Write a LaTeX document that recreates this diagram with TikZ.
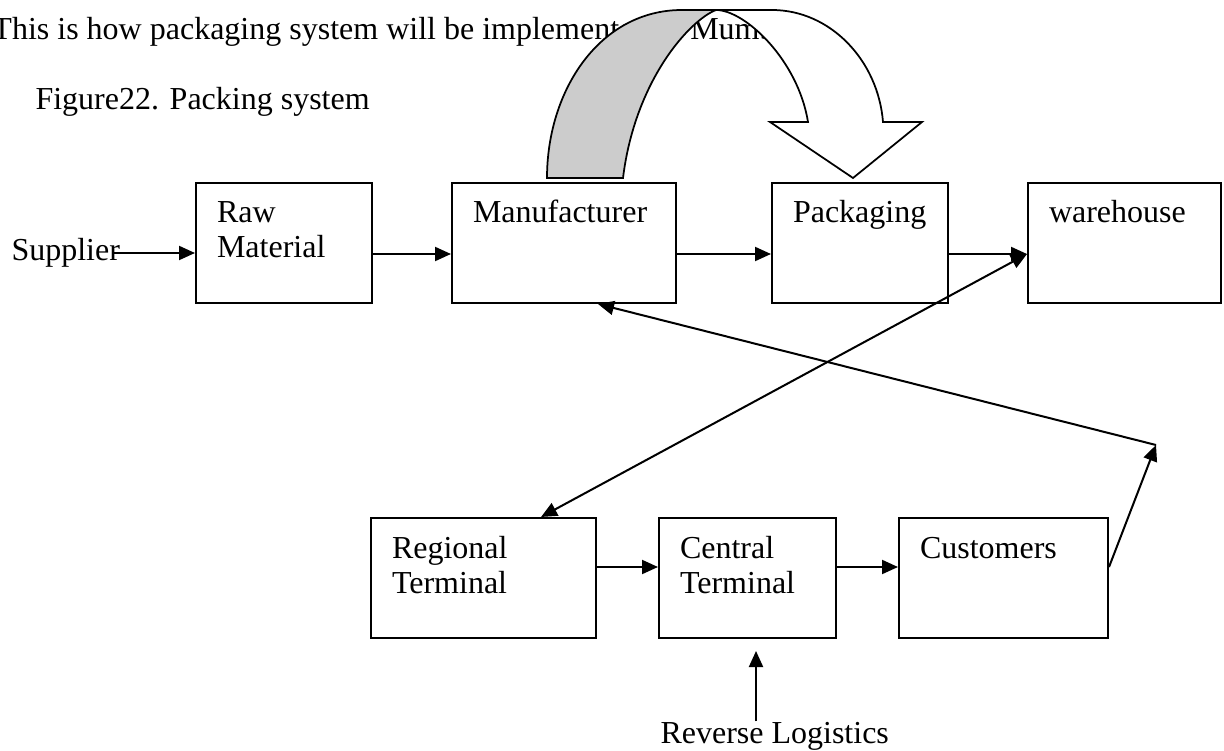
\documentclass[tikz,border=0pt]{standalone}
\usepackage{fontspec}
\setmainfont{Liberation Serif}
\usetikzlibrary{arrows.meta}

\begin{document}
\begin{tikzpicture}[x=0.4pt,y=-0.4pt,font=\fontsize{12.8}{14}\selectfont,
		>={Triangle[length=6.4pt,width=5.6pt]},
		stage/.style={draw,line width=0.8pt,anchor=north west,align=left,inner xsep=8.4pt,inner ysep=0pt,text height=16pt,text depth=32pt},
		plain/.style={inner sep=0pt,anchor=base west},
		flow/.style={line width=0.8pt,->}]
		\useasboundingbox (0,0) rectangle (1224,751);
		\node[plain] (title) at (-8,40) {This is how packaging system will be implemented in Mumbai.};
		\node[plain] (fig) at (35,110) {Figure22. Packing system};
		\filldraw[line width=0.7pt,fill=gray!40] (547,178) .. controls (547,90) and (600,10) .. (682,10) -- (716,10) .. controls (690,20) and (635,80) .. (623,178) -- cycle;
		\filldraw[line width=0.7pt,fill=white] (716,10) -- (772,10) .. controls (830,10) and (878,60) .. (883,122) -- (922,122) -- (853,178) -- (770,122) -- (808,122) .. controls (798,60) and (745,10) .. (716,10) -- cycle;
		\node[stage,text width=53.6pt] (raw) at (195,182) {Raw\\Material};
		\node[stage,text width=72.8pt] (mfr) at (451,182) {Manufacturer};
		\node[stage,text width=53.6pt] (pack) at (771,182) {Packaging};
		\node[stage,text width=60.4pt] (ware) at (1027,182) {warehouse};
		\node[stage,text width=73.2pt] (reg) at (370,517) {Regional\\Terminal};
		\node[stage,text width=54pt] (cen) at (658,517) {Central\\Terminal};
		\node[stage,text width=66.8pt] (cust) at (898,517) {Customers};
		\node[inner sep=0pt,anchor=west] (sup) at (11,253) {Supplier};
		\node[plain] (rev) at (660,743) {Reverse Logistics};
		\coordinate (turn) at (1156,445);
		\coordinate (revtip) at ([xshift=3.4pt,yshift=-4.8pt]cen.south);
		\draw[flow] ([xshift=-3.2pt]sup.east) -- (raw.west |- sup.east);
		\draw[flow] ([yshift=-4.4pt]raw.east) -- ([yshift=-4.4pt]mfr.west);
		\draw[flow] ([yshift=-4.4pt]mfr.east) -- ([yshift=-4.4pt]pack.west);
		\draw[flow] ([yshift=-4.4pt]pack.east) -- ([yshift=-4.4pt]ware.west);
		\draw[flow,<->] ([yshift=-4.4pt]ware.west) -- ([xshift=23pt]reg.north);
		\draw[flow] ([yshift=4.4pt]reg.east) -- ([yshift=4.4pt]cen.west);
		\draw[flow] ([yshift=4.4pt]cen.east) -- ([yshift=4.4pt]cust.west);
		\draw[flow] ([yshift=4.4pt]cust.east) -- (turn);
		\draw[flow] (turn) -- ([xshift=13.6pt]mfr.south);
		\draw[flow] (revtip |- rev.north) -- (revtip);
	\end{tikzpicture}
\end{document}
